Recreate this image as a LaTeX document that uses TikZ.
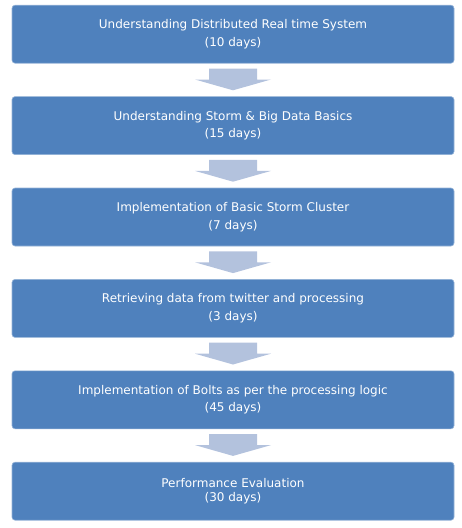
\documentclass[tikz,border=0pt]{standalone}
\usepackage{fontspec}
\setmainfont{DejaVu Sans}
\usetikzlibrary{calc}
\definecolor{boxblue}{HTML}{4F81BD}
\definecolor{arrowblue}{HTML}{B3C2DD}
\tikzset{
  stage/.style={fill=boxblue, draw=boxblue!60!white, line width=0.6pt, rounded corners=3pt,
    minimum width=442pt, minimum height=58pt, inner sep=0pt,
    text=white, align=center, font=\fontsize{12}{17.5}\selectfont},
  tightstage/.style={stage, font=\fontsize{12}{14}\selectfont},
  blockarrow/.style={fill=arrowblue, draw=none}
}
\newcommand{\blockarr}[2]{%
  \fill[blockarrow] ($(#1.south)+(-24pt,-5pt)$) -- ($(#1.south)+(24pt,-5pt)$)
    -- ($(#1.south)+(24pt,-16pt)$) -- ($(#1.south)+(38pt,-16pt)$)
    -- ($(#2.north)+(0pt,6pt)$)
    -- ($(#1.south)+(-38pt,-16pt)$) -- ($(#1.south)+(-24pt,-16pt)$) -- cycle;}
\begin{document}
\begin{tikzpicture}[x=1pt,y=-1pt]
\useasboundingbox (0,0) rectangle (462,528);
\node[stage] (s1) at (233,34.2) {Understanding Distributed Real time System\\(10 days)};
\node[stage] (s2) at (233,125.6) {Understanding Storm \& Big Data Basics\\(15 days)};
\node[stage] (s3) at (233,217.0) {Implementation of Basic Storm Cluster\\(7 days)};
\node[stage] (s4) at (233,308.4) {Retrieving data from twitter and processing\\(3 days)};
\node[stage] (s5) at (233,399.8) {Implementation of Bolts as per the processing logic\\(45 days)};
\node[tightstage] (s6) at (233,491.2) {Performance Evaluation\\(30 days)};
\blockarr{s1}{s2}
\blockarr{s2}{s3}
\blockarr{s3}{s4}
\blockarr{s4}{s5}
\blockarr{s5}{s6}
\end{tikzpicture}
\end{document}
